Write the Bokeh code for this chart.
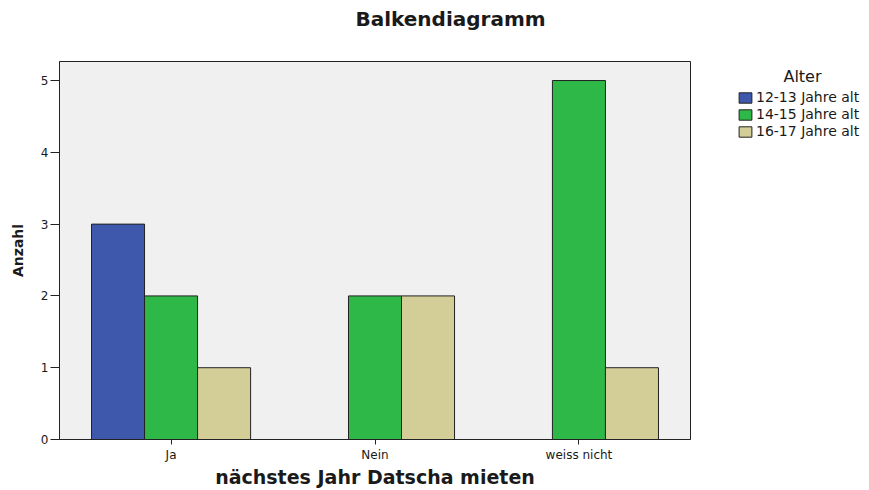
from bokeh.plotting import figure
from bokeh.layouts import column, row
from bokeh.models import (ColumnDataSource, FactorRange, Range1d, Legend,
                          LegendItem, Label, FixedTicker)
from bokeh.transform import dodge
from bokeh.embed import file_html
from bokeh.resources import INLINE

# ---- data -------------------------------------------------------------
categories = ["Ja", "Nein", "weiss nicht"]
series_names = ["12-13 Jahre alt", "14-15 Jahre alt", "16-17 Jahre alt"]
counts_12_13 = [3, 0, 0]
counts_14_15 = [2, 2, 5]
counts_16_17 = [1, 2, 1]
y_ticks = [0, 1, 2, 3, 4, 5]

title_text = "Balkendiagramm"
x_label = "nächstes Jahr Datscha mieten"
y_label = "Anzahl"
legend_title = "Alter"

# ---- styling ------------------------------------------------------------
colors = ["#3E58AC", "#2EB848", "#D3CE97"]
offsets = [-0.26, 0.0, 0.26]
bar_width = 0.26
FONT = "DejaVu Sans"
INK = "#1a1a1a"
EDGE = "#222222"


def blank_fig(w, h, **kw):
    f = figure(width=w, height=h, x_range=Range1d(0, 1), y_range=Range1d(0, 1),
               x_axis_type=None, y_axis_type=None, output_backend="svg",
               toolbar_location=None, **kw)
    f.outline_line_color = None
    f.background_fill_color = "white"
    f.border_fill_color = "white"
    f.xgrid.visible = False
    f.ygrid.visible = False
    f.title.visible = False
    return f


# ---- title strip ----------------------------------------------------------
top = blank_fig(869, 36, min_border=0)
top.add_layout(Label(x=450, y=18, x_units="screen", y_units="screen",
                     text=title_text, text_font=FONT, text_font_size="20px",
                     text_font_style="bold", text_align="center",
                     text_baseline="middle", text_color=INK))

# ---- main chart -----------------------------------------------------------
p = figure(
    width=700, height=454,
    x_range=FactorRange(*categories, range_padding=0.047,
                        range_padding_units="absolute"),
    y_range=Range1d(0, 5.265),
    output_backend="svg", toolbar_location=None,
    min_border_left=59, min_border_right=10,
    min_border_top=25, min_border_bottom=51,
)
p.title.visible = False
p.background_fill_color = "#F0F0F0"
p.border_fill_color = "white"
p.outline_line_color = EDGE
p.outline_line_width = 1
p.xgrid.visible = False
p.ygrid.visible = False

for name, vals, col, off in zip(series_names,
                                [counts_12_13, counts_14_15, counts_16_17],
                                colors, offsets):
    cats = [c for c, v in zip(categories, vals) if v > 0]
    tops = [v for v in vals if v > 0]
    src = ColumnDataSource(dict(cat=cats, top=tops))
    p.vbar(x=dodge("cat", off, range=p.x_range), top="top", bottom=0,
           width=bar_width, source=src, fill_color=col,
           line_color=EDGE, line_width=1)

p.yaxis.ticker = FixedTicker(ticks=y_ticks)
p.yaxis.minor_tick_line_color = None
p.yaxis.major_tick_in = 0
p.yaxis.major_tick_out = 9
p.yaxis.major_label_standoff = 2
p.yaxis.major_label_text_font = FONT
p.yaxis.major_label_text_font_size = "12px"
p.yaxis.major_label_text_color = INK
p.yaxis.axis_line_color = EDGE
p.yaxis.major_tick_line_color = EDGE
p.yaxis.axis_label = y_label
p.yaxis.axis_label_text_font = FONT
p.yaxis.axis_label_text_font_style = "bold"
p.yaxis.axis_label_text_font_size = "14px"
p.yaxis.axis_label_text_color = INK
p.yaxis.axis_label_standoff = 12

p.xaxis.major_tick_in = 0
p.xaxis.major_tick_out = 5
p.xaxis.major_label_standoff = 3
p.xaxis.major_label_text_font = FONT
p.xaxis.major_label_text_font_size = "12px"
p.xaxis.major_label_text_color = INK
p.xaxis.axis_line_color = EDGE
p.xaxis.major_tick_line_color = EDGE
p.xaxis.axis_label = x_label
p.xaxis.axis_label_text_font = FONT
p.xaxis.axis_label_text_font_style = "bold"
p.xaxis.axis_label_text_font_size = "19px"
p.xaxis.axis_label_text_color = INK
p.xaxis.axis_label_standoff = 1

# ---- legend panel (frame aligned with the chart frame) --------------------
side = blank_fig(169, 454, min_border_left=0, min_border_right=0,
                 min_border_top=25, min_border_bottom=51)
items = []
for name, vals, col in zip(series_names,
                           [counts_12_13, counts_14_15, counts_16_17], colors):
    proxy = side.vbar(x=list(range(len(categories))), top=vals, width=0.1,
                      fill_color=col, line_color=EDGE, line_width=1,
                      visible=False)
    items.append(LegendItem(label=name, renderers=[proxy]))
legend = Legend(
    items=items, location=(37, 300), orientation="vertical",
    glyph_width=16, glyph_height=13, label_height=15, label_width=10,
    spacing=1, padding=0, margin=0, label_standoff=3,
    label_text_font=FONT, label_text_font_size="14px",
    label_text_color=INK, border_line_alpha=0, background_fill_alpha=0,
)
side.add_layout(legend, "center")
side.add_layout(Label(x=102, y=363, x_units="screen", y_units="screen",
                      text=legend_title, text_font=FONT, text_font_size="16px",
                      text_align="center", text_baseline="middle",
                      text_color=INK))

layout = column(top, row(p, side, spacing=0), spacing=0)
open("out.html", "w").write(file_html(layout, INLINE))
